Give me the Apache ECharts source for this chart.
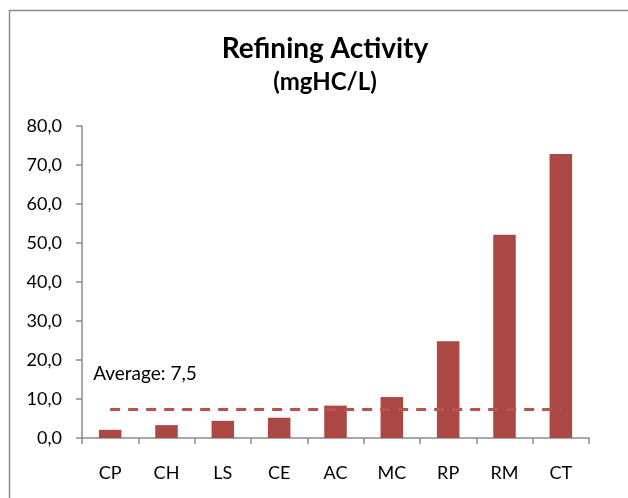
<!DOCTYPE html>
<html>
<head>
<meta charset="utf-8">
<script src="https://cdn.jsdelivr.net/npm/echarts@6/dist/echarts.min.js"></script>
<style>
  html, body { margin: 0; padding: 0; background: #fff; }
  #chart { width: 628px; height: 498px; }
</style>
</head>
<body>
<div id="chart"></div>
<script>
// Refining activity per sample point (mgHC/L)
const categories = ['CP', 'CH', 'LS', 'CE', 'AC', 'MC', 'RP', 'RM', 'CT'];
const activity = [2.1, 3.3, 4.4, 5.2, 8.3, 10.5, 24.8, 52.1, 72.8];
const averageValue = 7.5;
const yTicks = [0, 10, 20, 30, 40, 50, 60, 70, 80];

const fmt = v => v.toFixed(1).replace('.', ',');
const FONT = 'Lato, "Open Sans", sans-serif';

const chart = echarts.init(document.getElementById('chart'), null, { renderer: 'canvas' });

chart.setOption({
  animation: false,
  backgroundColor: '#fff',
  title: {
    text: 'Refining Activity',
    subtext: '(mgHC/L)',
    left: 320,
    textAlign: 'center',
    top: 30,
    itemGap: 7,
    textStyle: { fontFamily: FONT, fontSize: 28, fontWeight: 'bold', color: '#000' },
    subtextStyle: { fontFamily: FONT, fontSize: 24, fontWeight: 'bold', color: '#000' }
  },
  graphic: [{
    type: 'rect',
    shape: { x: 9.5, y: 10.5, width: 700, height: 600 },
    style: { fill: 'none', stroke: '#8c8c8c', lineWidth: 1.5 },
    silent: true,
    z: -1
  }],
  grid: { left: 82, right: 39, top: 126, bottom: 60, containLabel: false },
  xAxis: {
    type: 'category',
    data: categories,
    axisLine: { lineStyle: { color: '#8c8c8c', width: 1.5 } },
    axisTick: { show: true, length: 6, inside: false, lineStyle: { color: '#8c8c8c', width: 1.5 } },
    axisLabel: { fontFamily: FONT, fontSize: 18, color: '#000', margin: 26 }
  },
  yAxis: {
    type: 'value',
    min: yTicks[0],
    max: yTicks[yTicks.length - 1],
    interval: yTicks[1] - yTicks[0],
    splitLine: { show: false },
    axisLine: { show: true, lineStyle: { color: '#8c8c8c', width: 1.5 } },
    axisTick: { show: true, length: 6, lineStyle: { color: '#8c8c8c', width: 1.5 } },
    axisLabel: { fontFamily: FONT, fontSize: 18, color: '#000', margin: 20, formatter: fmt }
  },
  series: [{
    type: 'bar',
    data: activity,
    barWidth: '40%',
    itemStyle: { color: '#AB4744' },
    markLine: {
      silent: true,
      symbol: ['none', 'none'],
      lineStyle: { color: '#C0504D', type: [10, 8], width: 3 },
      label: {
        show: true,
        position: 'insideStartTop',
        distance: 5,
        offset: [-22, -20],
        fontFamily: FONT,
        fontSize: 19,
        color: '#000',
        formatter: () => 'Average: ' + fmt(averageValue)
      },
      data: [[
        { coord: [categories[0], averageValue] },
        { coord: [categories[categories.length - 1], averageValue] }
      ]]
    }
  }]
});
</script>
</body>
</html>
